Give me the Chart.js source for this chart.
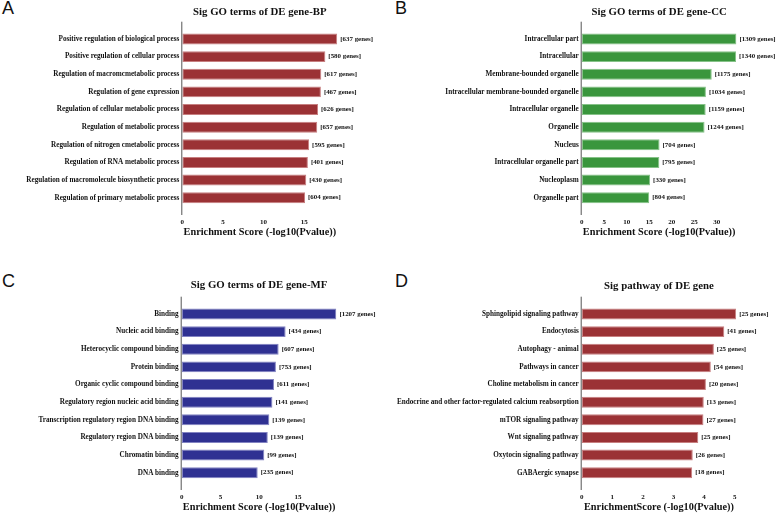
<!DOCTYPE html>
<html>
<head>
<meta charset="utf-8">
<script src="https://cdn.jsdelivr.net/npm/chart.js@4.4.1/dist/chart.umd.min.js"></script>
<style>
  body { margin: 0; background: #fff; width: 778px; height: 515px; overflow: hidden; position: relative; }
  canvas { position: absolute; }
  .tag { position: absolute; font: 18px "Liberation Sans", sans-serif; line-height: 1; color: #111; }
</style>
</head>
<body>
<div class="tag" style="left:2px;top:-1px">A</div>
<div class="tag" style="left:395px;top:-1px">B</div>
<div class="tag" style="left:2px;top:272px">C</div>
<div class="tag" style="left:395px;top:272px">D</div>
<canvas id="bp" width="389" height="240" style="left:0;top:0"></canvas>
<canvas id="cc" width="389" height="240" style="left:389px;top:0"></canvas>
<canvas id="mf" width="389" height="240" style="left:0;top:274.5px"></canvas>
<canvas id="kegg" width="389" height="240" style="left:389px;top:274.5px"></canvas>
<script>
// BP
const bpLabels = ['Positive regulation of biological process', 'Positive regulation of cellular process',
  'Regulation of macromcmetabolic process', 'Regulation of gene expression',
  'Regulation of cellular metabolic process', 'Regulation of metabolic process',
  'Regulation of nitrogen cmetabolic process', 'Regulation of RNA metabolic process',
  'Regulation of macromolecule biosynthetic process', 'Regulation of primary metabolic process'];
const bpScores = [19.07, 17.6, 17.1, 17.05, 16.7, 16.6, 15.6, 15.45, 15.25, 15.1];
const bpGenes = [637, 580, 617, 467, 626, 657, 595, 401, 430, 604];

// CC
const ccLabels = ['Intracellular part', 'Intracellular', 'Membrane-bounded organelle',
  'Intracellular membrane-bounded organelle', 'Intracellular organelle', 'Organelle',
  'Nucleus', 'Intracellular organelle part', 'Nucleoplasm', 'Organelle part'];
const ccScores = [34.4, 34.3, 28.9, 27.6, 27.55, 27.3, 17.3, 17.25, 15.2, 15.0];
const ccGenes = [1309, 1340, 1175, 1034, 1159, 1244, 704, 795, 330, 804];

// MF
const mfLabels = ['Binding', 'Nucleic acid binding', 'Heterocyclic compound binding', 'Protein binding',
  'Organic cyclic compound binding', 'Regulatory region nucleic acid binding',
  'Transcription regulatory region DNA binding', 'Regulatory region DNA binding',
  'Chromatin binding', 'DNA binding'];
const mfScores = [19.95, 13.4, 12.5, 12.15, 11.9, 11.7, 11.3, 11.1, 10.65, 9.8];
const mfGenes = [1207, 434, 607, 753, 611, 141, 139, 139, 99, 235];

// pathway
const pwLabels = ['Sphingolipid signaling pathway', 'Endocytosis', 'Autophagy - animal', 'Pathways in cancer',
  'Choline metabolism in cancer', 'Endocrine and other factor-regulated calcium reabsorption',
  'mTOR signaling pathway', 'Wnt signaling pathway', 'Oxytocin signaling pathway', 'GABAergic synapse'];
const pwScores = [5.05, 4.66, 4.32, 4.22, 4.06, 3.99, 3.98, 3.81, 3.63, 3.61];
const pwGenes = [25, 41, 25, 54, 20, 13, 27, 25, 26, 18];

const serif = 'Liberation Serif';

// gene counts after each bar + the y axis line (a bit longer than the plot area)
const extras = {
  id: 'extras',
  afterDatasetsDraw(chart, args, opts) {
    const ctx = chart.ctx;
    const area = chart.chartArea;
    ctx.save();
    ctx.strokeStyle = '#555';
    ctx.lineWidth = 1;
    ctx.beginPath();
    ctx.moveTo(area.left - 0.5, area.top - 8.5);
    ctx.lineTo(area.left - 0.5, area.bottom + 8.5);
    ctx.stroke();

    ctx.fillStyle = '#111';
    ctx.font = 'bold 6.9px "' + serif + '"';
    ctx.textAlign = 'left';
    ctx.textBaseline = 'middle';
    chart.getDatasetMeta(0).data.forEach((bar, i) => {
      ctx.fillText('[' + opts.genes[i] + ' genes]', bar.x + 3, bar.y);
    });
    ctx.restore();
  }
};

function panel(id, title, labels, scores, genes, color, edge, left, right, titlePad, step, xTitle) {
  new Chart(document.getElementById(id), {
    type: 'bar',
    data: {
      labels: labels,
      datasets: [{
        data: scores,
        backgroundColor: color,
        borderColor: edge,
        borderWidth: 1,
        borderSkipped: false,
        categoryPercentage: 1,
        barPercentage: 0.62
      }]
    },
    options: {
      indexAxis: 'y',
      responsive: false,
      animation: false,
      layout: { padding: { left: 0, right: 389 - right, top: 0, bottom: 0 } },
      plugins: {
        legend: { display: false },
        tooltip: { enabled: false },
        extras: { genes: genes }
      },
      scales: {
        y: {
          grid: { display: false, drawTicks: false },
          border: { display: false },
          ticks: { color: '#111', padding: 3, autoSkip: false, font: { family: serif, weight: 'bold', size: 7.2 } },
          afterFit(s) { s.width = left; }
        },
        x: {
          min: 0,
          max: Math.max(...scores),
          bounds: 'data',
          grid: { display: false, drawTicks: false },
          border: { display: false },
          ticks: { stepSize: step, includeBounds: false, padding: 11, color: '#111',
            font: { family: serif, weight: 'bold', size: 7 } },
          title: { display: true, text: xTitle, color: '#111', padding: { top: 0, bottom: 1 },
            font: { family: serif, weight: 'bold', size: 10.3 } },
          afterFit(s) { s.height = 33.5; }
        },
        x2: {
          position: 'top',
          grid: { display: false, drawTicks: false },
          border: { display: false },
          ticks: { display: false },
          title: { display: true, text: title, color: '#111', padding: { top: titlePad, bottom: 0 },
            font: { family: serif, weight: 'bold', size: 10.8 } },
          afterFit(s) { s.height = 30.2; }
        }
      }
    },
    plugins: [extras]
  });
}

const red = '#9b3235', redEdge = '#c77f80';
panel('bp', 'Sig GO terms of DE gene-BP', bpLabels, bpScores, bpGenes, red, redEdge, 182.3, 337.3, 6.1, 5,
  'Enrichment Score (-log10(Pvalue))');
panel('cc', 'Sig GO terms of DE gene-CC', ccLabels, ccScores, ccGenes, '#3a963d', '#86c288', 192.7, 347.5, 6.1, 5,
  'Enrichment Score (-log10(Pvalue))');
panel('mf', 'Sig GO terms of DE gene-MF', mfLabels, mfScores, mfGenes, '#2f3192', '#8283c2', 181.7, 336.4, 4.2, 5,
  'Enrichment Score (-log10(Pvalue))');
panel('kegg', 'Sig pathway of DE gene', pwLabels, pwScores, pwGenes, red, redEdge, 192.7, 347.2, 5.2, 1,
  'EnrichmentScore (-log10(Pvalue))');
</script>
</body>
</html>
